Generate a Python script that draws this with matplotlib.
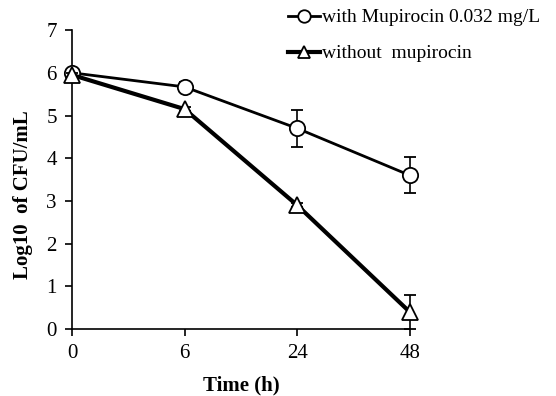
import matplotlib.pyplot as plt
from matplotlib.lines import Line2D

# dati
tempi = ["0", "6", "24", "48"]
con_mupirocina = [6.0, 5.67, 4.70, 3.60]
err_con = [0.05, 0.12, 0.43, 0.42]
senza_mupirocina = [5.95, 5.15, 2.90, 0.40]
err_senza = [0.05, 0.05, 0.05, 0.40]

plt.rcParams['font.family'] = ['Liberation Serif', 'DejaVu Serif']

fig = plt.figure(figsize=(5.56, 3.96), dpi=100)
ax = fig.add_axes([0.1295, 0.169, 0.6075, 0.755])

x = list(range(len(tempi)))
c1 = ax.errorbar(x, con_mupirocina, yerr=err_con, color='black', lw=2,
                 marker='o', ms=11, mfc='white', mec='black', mew=1.3,
                 capsize=4, elinewidth=1.2, capthick=1.2,
                 clip_on=False, zorder=3)
c2 = ax.errorbar(x, senza_mupirocina, yerr=err_senza, color='black', lw=3,
                 marker='^', ms=11, mfc='white', mec='black', mew=1.3,
                 capsize=4, elinewidth=1.2, capthick=1.2,
                 clip_on=False, zorder=4)
for c in (c1, c2):
    for part in c.lines[1] + tuple(c.lines[2]):
        part.set_clip_on(False)

ax.set_xlim(0, 3)
ax.set_ylim(0, 7)
ax.set_xticks(x)
ax.set_xticklabels(tempi)
ax.set_yticks(range(8))
ax.spines['top'].set_visible(False)
ax.spines['right'].set_visible(False)
ax.tick_params(direction='out', length=5, width=1.2, labelsize=15, pad=6)
ax.spines['left'].set_linewidth(1.2)
ax.spines['bottom'].set_linewidth(1.2)

ax.set_xlabel("Time (h)", fontsize=15, fontweight='bold', labelpad=9)
ax.set_ylabel("Log10  of CFU/mL", fontsize=15, fontweight='bold')
ax.yaxis.set_label_coords(-0.115, 0.45)

# legenda senza barre d'errore
maniglie = [
    Line2D([], [], color='black', lw=2, marker='o', ms=9, mfc='white', mec='black', mew=1.3),
    Line2D([], [], color='black', lw=3, marker='^', ms=9, mfc='white', mec='black', mew=1.3),
]
etichette = ['with Mupirocin 0.032 mg/L', 'without  mupirocin']
fig.legend(maniglie, etichette, loc='upper left', bbox_to_anchor=(0.518, 0.978),
           frameon=False, fontsize=14, handlelength=1.65, handletextpad=0.12,
           labelspacing=0.95, borderpad=0, borderaxespad=0)

fig.savefig("out.png", dpi=100)
